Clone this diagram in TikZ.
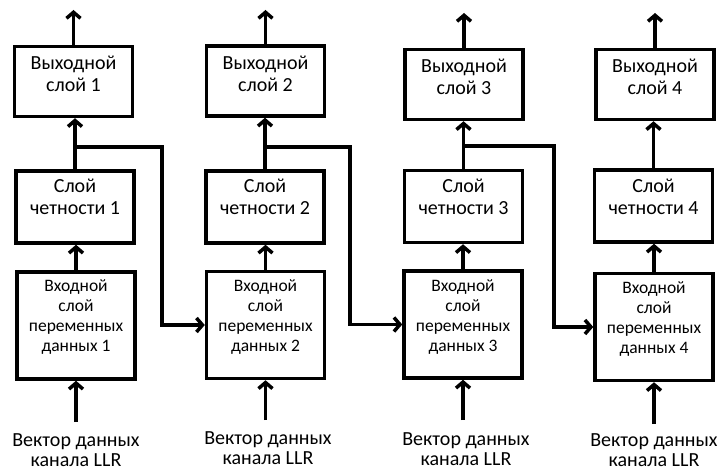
\documentclass[tikz,border=0pt]{standalone}
\usepackage{fontspec}
\setmainfont{Carlito}
\usetikzlibrary{arrows.meta}
\begin{document}
\begin{tikzpicture}[x=1pt,y=-1pt,
  box/.style={draw,line width=3.5pt,minimum width=118pt,inner sep=0pt},
  obox/.style={box,minimum height=70pt},
  pbox/.style={box,minimum height=72pt},
  ibox/.style={box,minimum height=107pt},
  btxt/.style={align=center,font=\fontsize{20}{22}\selectfont,anchor=north,inner sep=0pt},
  itxt/.style={align=center,font=\fontsize{17.5}{20}\selectfont,anchor=north,inner sep=0pt},
  ltxt/.style={align=center,font=\fontsize{20}{20}\selectfont,anchor=north,inner sep=0pt},
  arr/.style={line width=3.5pt,-{Straight Barb[length=6pt,width=14pt]}}]
\useasboundingbox[fill=white] (0,0) rectangle (722,470);
% boxes
\node[obox] (o1) at (73.5,81.5) {};
\node[obox] (o2) at (265.5,81) {};
\node[obox] (o3) at (464,84.5) {};
\node[obox] (o4) at (655,84.5) {};
\node[pbox] (p1) at (75,207) {};
\node[pbox] (p2) at (265,207) {};
\node[pbox] (p3) at (463.5,206.5) {};
\node[pbox] (p4) at (653.5,206) {};
\node[ibox] (i1) at (76,325.5) {};
\node[ibox] (i2) at (265.5,325) {};
\node[ibox] (i3) at (463,324.5) {};
\node[ibox] (i4) at (654,327) {};
% texts
\node[btxt] (to1) at (73.5,56) {Выходной\\слой 1};
\node[btxt] (to2) at (265.5,56) {Выходной\\слой 2};
\node[btxt] (to3) at (464,59) {Выходной\\слой 3};
\node[btxt] (to4) at (655,59) {Выходной\\слой 4};
\node[btxt] (tp1) at (75,179) {Слой\\четности 1};
\node[btxt] (tp2) at (265,179) {Слой\\четности 2};
\node[btxt] (tp3) at (463.5,179) {Слой\\четности 3};
\node[btxt] (tp4) at (653.5,179) {Слой\\четности 4};
\node[itxt] (ti1) at (76,279) {Входной\\слой\\переменных\\данных 1};
\node[itxt] (ti2) at (265.5,279) {Входной\\слой\\переменных\\данных 2};
\node[itxt] (ti3) at (463,279) {Входной\\слой\\переменных\\данных 3};
\node[itxt] (ti4) at (654,281) {Входной\\слой\\переменных\\данных 4};
\node[ltxt] (l1) at (76,433) {Вектор данных\\канала LLR};
\node[ltxt] (l2) at (268,431) {Вектор данных\\канала LLR};
\node[ltxt] (l3) at (466,432) {Вектор данных\\канала LLR};
\node[ltxt] (l4) at (654,433) {Вектор данных\\канала LLR};
% coordinates
\coordinate (u1) at (73.5,10);
\coordinate (u2) at (265.5,10);
\coordinate (u3) at (464,13);
\coordinate (u4) at (655,13);
\coordinate (d1) at (76,422);
\coordinate (d2) at (265.5,420);
\coordinate (d3) at (463,420);
\coordinate (d4) at (654,424);
\coordinate (b1) at (75,147);
\coordinate (b2) at (265,147);
\coordinate (b3) at (463.5,146);
\coordinate (k1) at (162,147);
\coordinate (k2) at (350,147);
\coordinate (k3) at (554,146);
% vertical arrows
\foreach \n in {1,2,3,4}{
  \draw[arr] (o\n.north) -- (u\n);
  \draw[arr] (p\n.north) -- (p\n.north |- o\n.south);
  \draw[arr] (i\n.north) -- (i\n.north |- p\n.south);
  \draw[arr] (d\n) -- (i\n.south);
}
% branches
\draw[arr] (b1) -- (k1) |- (i2.west);
\draw[arr] (b2) -- (k2) |- (i3.west);
\draw[arr] (b3) -- (k3) |- (i4.west);
\end{tikzpicture}
\end{document}
